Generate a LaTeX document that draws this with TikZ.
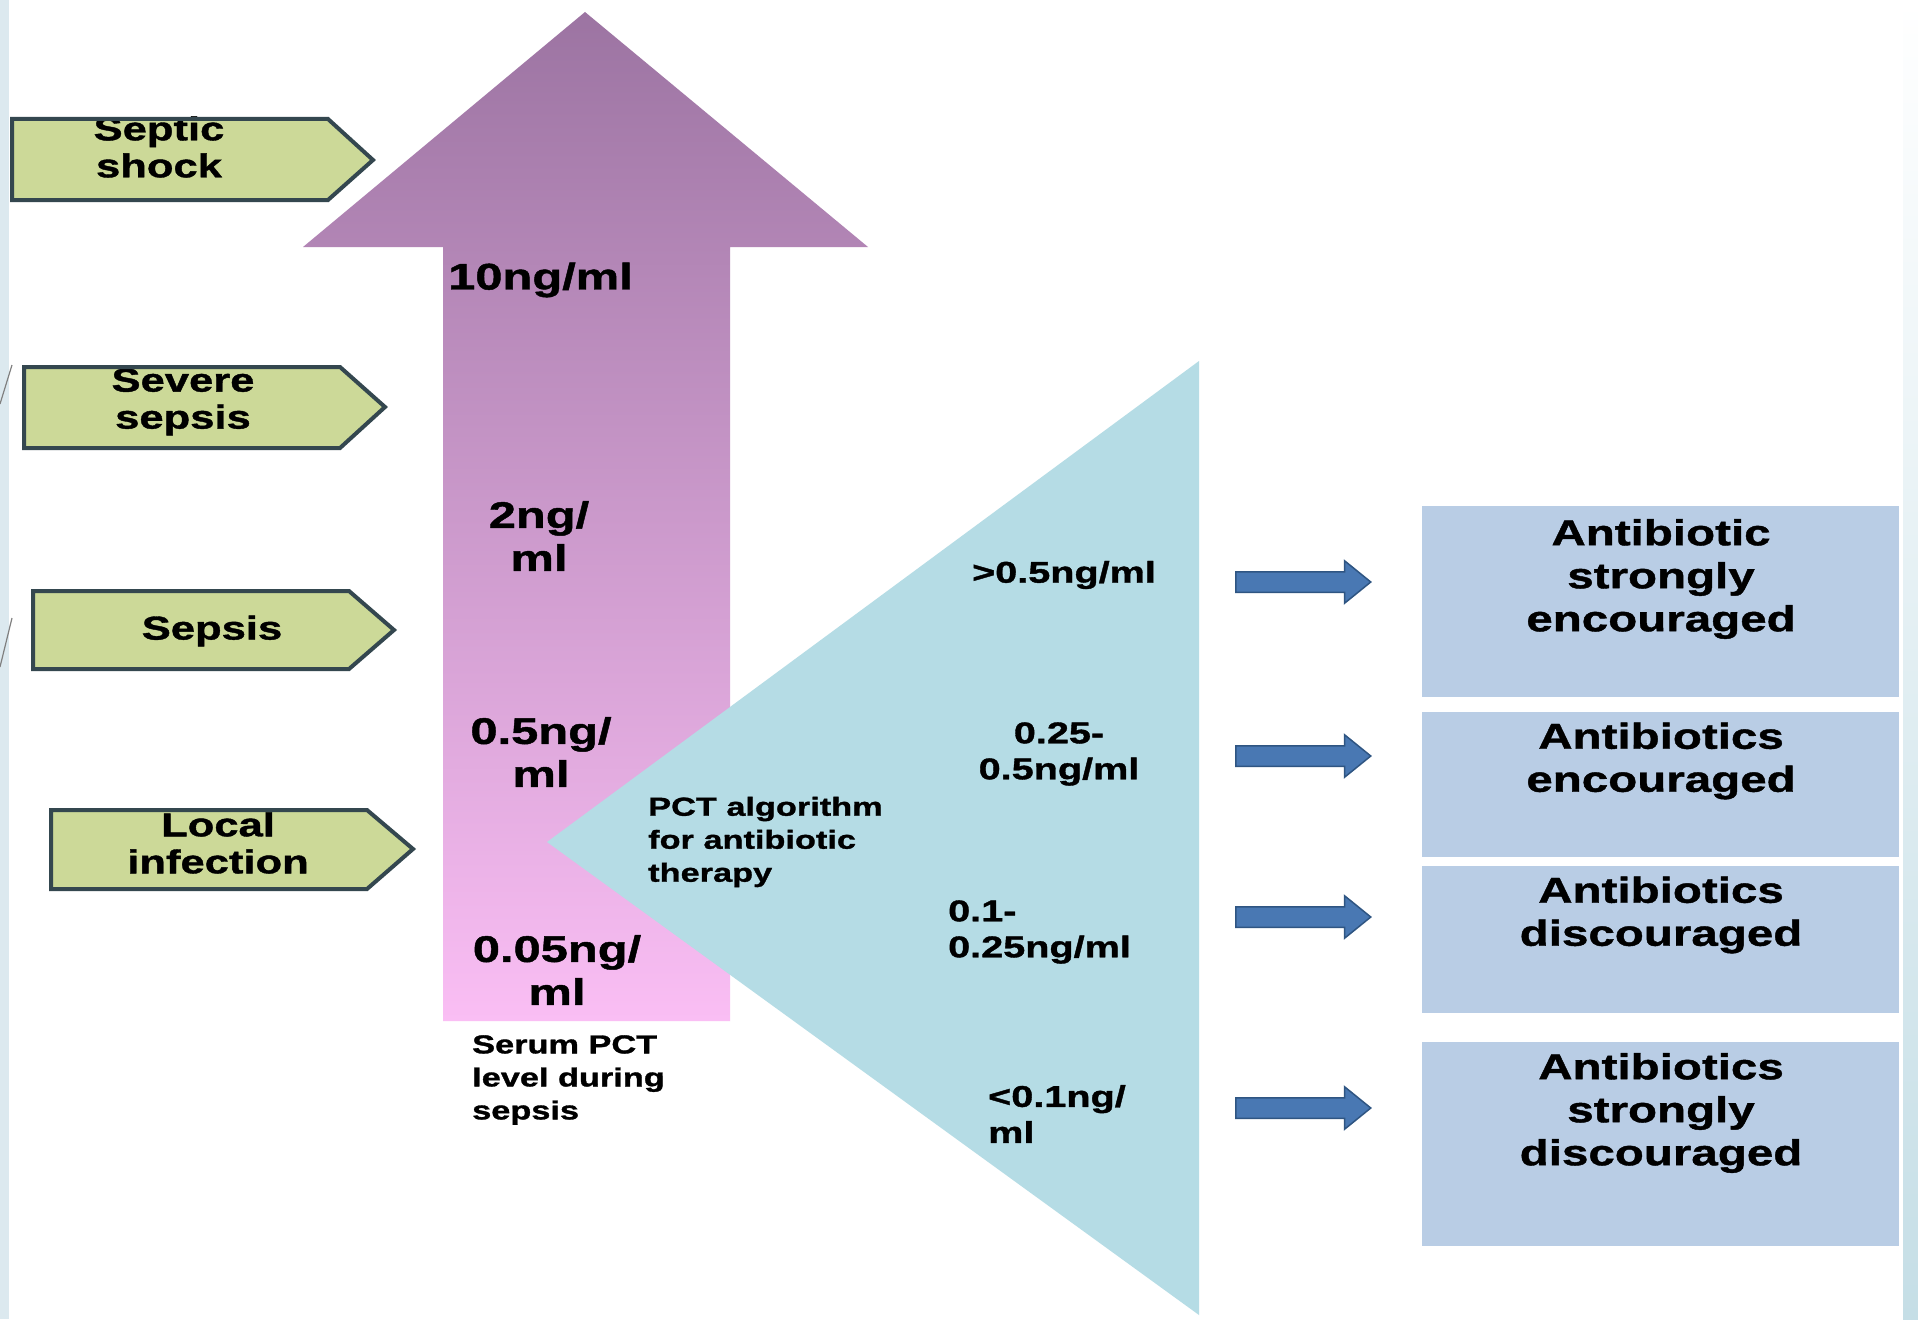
\documentclass[tikz,border=0pt]{standalone}
\usepackage{fontspec}
\setmainfont[FakeStretch=1.32,BoldFeatures={FakeBold=1.2}]{Liberation Sans}
\usetikzlibrary{shapes.arrows}
\definecolor{stagefill}{RGB}{204,217,152}
\definecolor{stageborder}{RGB}{52,71,79}
\definecolor{arrowtop}{RGB}{156,116,162}
\definecolor{arrowbot}{RGB}{250,190,244}
\definecolor{trifill}{RGB}{181,220,229}
\definecolor{bluearrow}{RGB}{73,120,179}
\definecolor{bluearrowline}{RGB}{47,85,130}
\definecolor{boxfill}{RGB}{185,205,229}
\definecolor{edgeleft}{RGB}{220,233,239}
\definecolor{edgeright}{RGB}{197,222,230}
\tikzset{
  stagebg/.style={fill=stagefill},
  stageline/.style={draw=stageborder, line width=4pt, line join=miter},
  stagetxt/.style={font=\fontsize{33}{37}\selectfont\bfseries, align=center, inner sep=0pt},
  lvltxt/.style={font=\fontsize{37}{43}\selectfont\bfseries, align=center, inner sep=0pt},
  serumtxt/.style={font=\fontsize{26}{33}\selectfont\bfseries, align=left, inner sep=0pt},
  tritxt/.style={font=\fontsize{30}{36}\selectfont\bfseries, inner sep=0pt},
  resbox/.style={fill=boxfill, draw=none, inner sep=0pt, minimum width=477pt},
  restxt/.style={font=\fontsize{36}{43}\selectfont\bfseries, align=center, inner sep=0pt},
  barrow/.style={single arrow, fill=bluearrow, draw=bluearrowline, line width=1.5pt,
    minimum height=135pt, inner xsep=0pt, inner ysep=9.5pt, single arrow head extend=11pt,
    single arrow tip angle=78, anchor=west},
}
\begin{document}
\begin{tikzpicture}[x=1pt,y=-1pt]
\useasboundingbox (0,0) rectangle (1918,1319);
\fill[white] (0,0) rectangle (1918,1319);
% slide edges
\fill[edgeleft] (0,0) rectangle (9,1319);
\shade[top color=white, bottom color=edgeright] (1903,0) rectangle (1918,1319);
\draw[gray, line width=1.2pt] (12,365) -- (0,404);
\draw[gray, line width=1.2pt] (12,618) -- (0,667);

% big upward arrow
\shade[top color=arrowtop, bottom color=arrowbot]
  (585,12) -- (868,247) -- (730,247) -- (730,1021) -- (443,1021) -- (443,247) -- (303,247) -- cycle;

% stage pentagons: fill, text, then outline over the text
\fill[stagebg] (12,119) -- (328,119) -- (373,160) -- (328,200) -- (12,200) -- cycle;
\fill[stagebg] (24,367) -- (340,367) -- (385,407) -- (340,448) -- (24,448) -- cycle;
\fill[stagebg] (33,591) -- (349,591) -- (394,630) -- (349,669) -- (33,669) -- cycle;
\fill[stagebg] (51,810) -- (367,810) -- (413,849) -- (367,889) -- (51,889) -- cycle;
\node[stagetxt] (s1) at (159,147) {Septic\\shock};
\node[stagetxt] (s2) at (183,402) {Severe\\sepsis};
\node[stagetxt] (s3) at (212,631) {Sepsis};
\node[stagetxt] (s4) at (218,843) {Local\\infection};
\draw[stageline] (12,119) -- (328,119) -- (373,160) -- (328,200) -- (12,200) -- cycle;
\draw[stageline] (24,367) -- (340,367) -- (385,407) -- (340,448) -- (24,448) -- cycle;
\draw[stageline] (33,591) -- (349,591) -- (394,630) -- (349,669) -- (33,669) -- cycle;
\draw[stageline] (51,810) -- (367,810) -- (413,849) -- (367,889) -- (51,889) -- cycle;

% triangle
\fill[trifill] (547,842) -- (1199,361) -- (1199,1315) -- cycle;

% levels on the arrow
\node[lvltxt, anchor=west] (l1) at (448,280) {10ng/ml};
\node[lvltxt] (l2) at (539,536) {2ng/\\ml};
\node[lvltxt] (l3) at (541,752) {0.5ng/\\ml};
\node[lvltxt] (l4) at (557,970) {0.05ng/\\ml};
\node[serumtxt, anchor=west] (serum) at (472,1080) {Serum PCT\\level during\\sepsis};

% triangle texts
\node[serumtxt, anchor=west] (pct) at (648,842) {PCT algorithm\\for antibiotic\\therapy};
\node[tritxt] (t1) at (1064,575) {>0.5ng/ml};
\node[tritxt, align=center] (t2) at (1059,754) {0.25-\\0.5ng/ml};
\node[tritxt, align=left, anchor=west] (t3) at (948,932) {0.1-\\0.25ng/ml};
\node[tritxt, align=left, anchor=west] (t4) at (988,1114) {<0.1ng/\\ml};

% result boxes
\node[resbox, minimum height=191pt] (b1) at (1660,601.5) {};
\node[resbox, minimum height=145pt] (b2) at (1660,784.5) {};
\node[resbox, minimum height=147pt] (b3) at (1660,939.5) {};
\node[resbox, minimum height=204pt] (b4) at (1660,1143.5) {};
\node[restxt] (r1) at (1661,579) {Antibiotic\\strongly\\encouraged};
\node[restxt] (r2) at (1661,761) {Antibiotics\\encouraged};
\node[restxt] (r3) at (1661,915) {Antibiotics\\discouraged};
\node[restxt] (r4) at (1661,1113) {Antibiotics\\strongly\\discouraged};

% block arrows
\node[barrow] (a1) at (1235,582) {};
\node[barrow] (a2) at (1235,756) {};
\node[barrow] (a3) at (1235,917) {};
\node[barrow] (a4) at (1235,1108) {};
\end{tikzpicture}
\end{document}
